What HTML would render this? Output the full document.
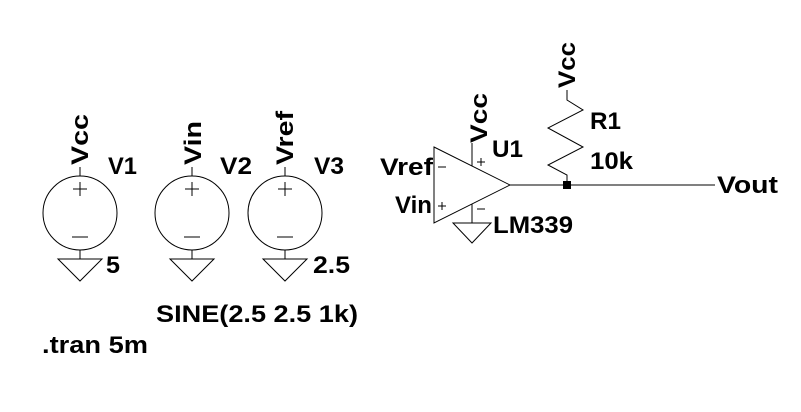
<!DOCTYPE html>
<html><head><meta charset="utf-8"><style>html,body{margin:0;padding:0;background:#fff}svg{display:block}</style></head>
<body>
<svg width="801" height="412" viewBox="0 0 801 412" xmlns="http://www.w3.org/2000/svg">
<g fill="none" stroke="#000" stroke-width="1">
  <circle cx="80" cy="213" r="37"/>
  <line x1="80" y1="167" x2="80" y2="176"/><line x1="80" y1="250" x2="80" y2="259"/>
  <line x1="73" y1="189" x2="87" y2="189"/><line x1="80" y1="182" x2="80" y2="196"/>
  <line x1="72" y1="237" x2="88" y2="237"/>
  <polygon points="58,259 102,259 80,281"/>
  <circle cx="192" cy="213" r="37"/>
  <line x1="192" y1="167" x2="192" y2="176"/><line x1="192" y1="250" x2="192" y2="259"/>
  <line x1="185" y1="189" x2="199" y2="189"/><line x1="192" y1="182" x2="192" y2="196"/>
  <line x1="184" y1="237" x2="200" y2="237"/>
  <polygon points="170,259 214,259 192,281"/>
  <circle cx="285" cy="213" r="37"/>
  <line x1="285" y1="167" x2="285" y2="176"/><line x1="285" y1="250" x2="285" y2="259"/>
  <line x1="278" y1="189" x2="292" y2="189"/><line x1="285" y1="182" x2="285" y2="196"/>
  <line x1="277" y1="237" x2="293" y2="237"/>
  <polygon points="263,259 307,259 285,281"/>
  <polygon points="434,147 510,185 434,223"/>
  <line x1="472" y1="143" x2="472" y2="166"/>
  <line x1="472" y1="204" x2="472" y2="223"/>
  <polygon points="453,223 491,223 472,243"/>
  <line x1="438" y1="167" x2="446" y2="167"/>
  <line x1="438" y1="206" x2="446" y2="206"/><line x1="442" y1="202" x2="442" y2="210"/>
  <line x1="477" y1="162" x2="485" y2="162"/><line x1="481" y1="158" x2="481" y2="166"/>
  <line x1="477" y1="209" x2="485" y2="209"/>
  <line x1="510" y1="185" x2="715" y2="185"/>
  <polyline points="567,90 567,100 583,110 548,128 583,147 548,165 567,175 567,185"/>
</g>
<rect x="563" y="181" width="8" height="8" fill="#000"/>
<g font-family="Liberation Sans, Arial, sans-serif" font-weight="bold" font-size="24" fill="#000">
  <text transform="translate(88,165) rotate(-90)" textLength="51" lengthAdjust="spacingAndGlyphs">Vcc</text>
  <text transform="translate(201,165) rotate(-90)" textLength="44" lengthAdjust="spacingAndGlyphs">Vin</text>
  <text transform="translate(293,165) rotate(-90)" textLength="54" lengthAdjust="spacingAndGlyphs">Vref</text>
  <text transform="translate(487,143) rotate(-90)" textLength="50" lengthAdjust="spacingAndGlyphs">Vcc</text>
  <text transform="translate(575,88) rotate(-90)" textLength="46" lengthAdjust="spacingAndGlyphs">Vcc</text>
  <text x="108" y="174" textLength="29" lengthAdjust="spacingAndGlyphs">V1</text>
  <text x="220" y="174" textLength="32" lengthAdjust="spacingAndGlyphs">V2</text>
  <text x="314" y="174" textLength="30" lengthAdjust="spacingAndGlyphs">V3</text>
  <text x="106" y="273" textLength="14" lengthAdjust="spacingAndGlyphs">5</text>
  <text x="313" y="273" textLength="37" lengthAdjust="spacingAndGlyphs">2.5</text>
  <text x="380" y="175" textLength="53" lengthAdjust="spacingAndGlyphs">Vref</text>
  <text x="395" y="213" textLength="37" lengthAdjust="spacingAndGlyphs">Vin</text>
  <text x="492" y="157" textLength="31" lengthAdjust="spacingAndGlyphs">U1</text>
  <text x="493" y="233" textLength="80" lengthAdjust="spacingAndGlyphs">LM339</text>
  <text x="590" y="129" textLength="31" lengthAdjust="spacingAndGlyphs">R1</text>
  <text x="590" y="169" textLength="43" lengthAdjust="spacingAndGlyphs">10k</text>
  <text x="717" y="193" textLength="61" lengthAdjust="spacingAndGlyphs">Vout</text>
  <text x="156" y="322" textLength="202" lengthAdjust="spacingAndGlyphs">SINE(2.5 2.5 1k)</text>
  <text x="42" y="353" textLength="106" lengthAdjust="spacingAndGlyphs">.tran 5m</text>
</g>
</svg>
</body></html>
